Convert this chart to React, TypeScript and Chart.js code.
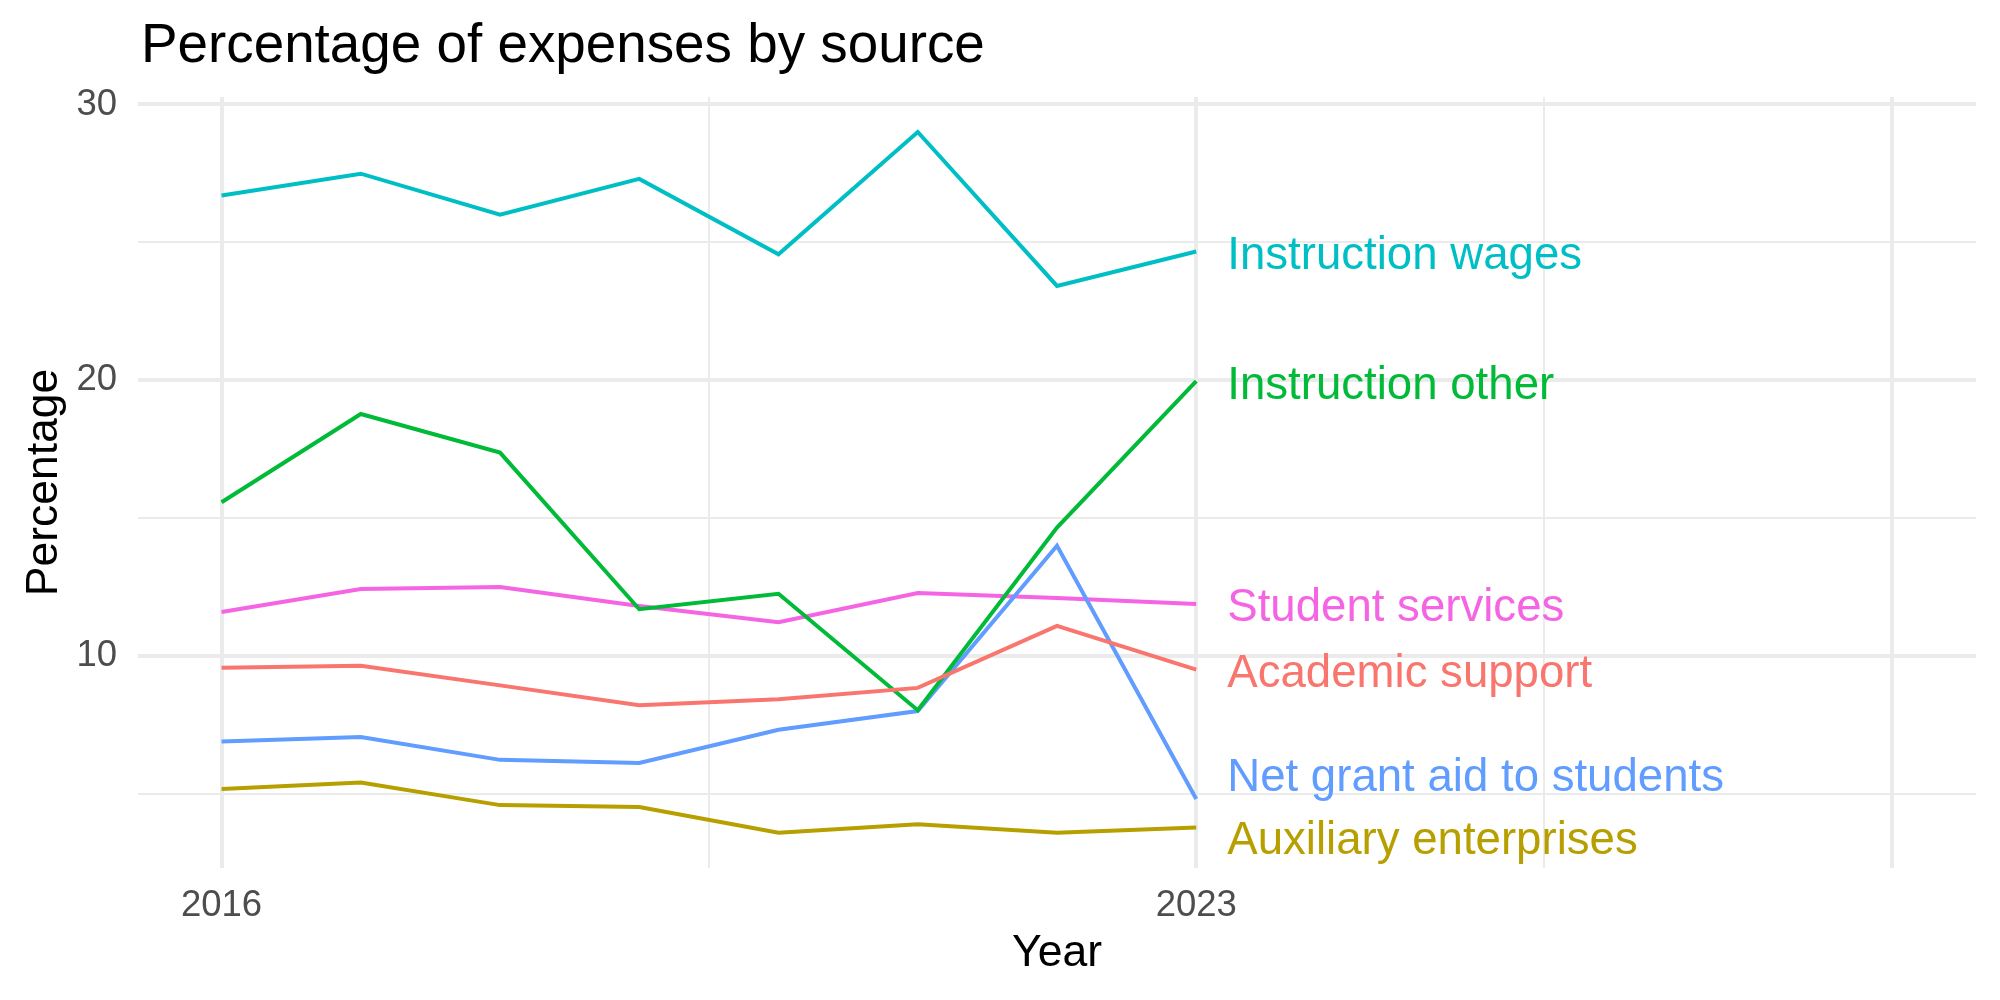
import React, { useEffect, useRef } from "react";
import { Chart, registerables } from "chart.js";

Chart.register(...registerables);

const years = [2016, 2017, 2018, 2019, 2020, 2021, 2022, 2023];

const seriesNames = [
  "Academic support",
  "Auxiliary enterprises",
  "Instruction other",
  "Instruction wages",
  "Net grant aid to students",
  "Student services",
];
const seriesColors = ["#F8766D", "#B79F00", "#00BA38", "#00BFC4", "#619CFF", "#F564E3"];

const academicSupport = [9.58, 9.65, 8.94, 8.22, 8.44, 8.85, 11.1, 9.51];
const auxiliaryEnterprises = [5.18, 5.42, 4.6, 4.53, 3.6, 3.91, 3.6, 3.79];
const instructionOther = [15.58, 18.78, 17.38, 11.7, 12.26, 8.04, 14.66, 19.97];
const instructionWages = [26.7, 27.49, 26.0, 27.3, 24.57, 29.0, 23.42, 24.67];
const netGrantAid = [6.91, 7.07, 6.24, 6.13, 7.33, 8.01, 14.0, 4.82];
const studentServices = [11.6, 12.43, 12.51, 11.82, 11.23, 12.29, 12.11, 11.89];

// end-label vertical positions (after repelling), in data units
const labelYears = [2023, 2023, 2023, 2023, 2023, 2023];
const labelValues = [9.46, 3.42, 19.91, 24.64, 5.72, 11.87];

const xMajorTicks = [2016, 2023, 2028];
const xMinorTicks = [2019.5, 2025.5];
const xTickLabels = ["2016", "2023", ""];
const yMajorTicks = [10, 20, 30];
const yMinorTicks = [5, 15, 25];
const yTickLabels = ["10", "20", "30"];

const titleText = "Percentage of expenses by source";
const xTitle = "Year";
const yTitle = "Percentage";

const FONT = "'Liberation Sans', Arial, Helvetica, sans-serif";

export default function App() {
  const ref = useRef<HTMLCanvasElement | null>(null);

  useEffect(() => {
    const canvas = ref.current;
    if (!canvas) return;
    const allSeries = [
      academicSupport,
      auxiliaryEnterprises,
      instructionOther,
      instructionWages,
      netGrantAid,
      studentServices,
    ];

    const labelPlugin = {
      id: "endLabels",
      afterDatasetsDraw(chart: any) {
        const ctx = chart.ctx;
        const xs = chart.scales.x;
        const ys = chart.scales.y;
        ctx.save();
        const fs = 45.6;
        ctx.font = `${fs}px ${FONT}`;
        ctx.textAlign = "left";
        ctx.textBaseline = "alphabetic";
        seriesNames.forEach((name, i) => {
          const px = xs.getPixelForValue(labelYears[i]) + 31;
          const py = ys.getPixelForValue(labelValues[i]) + 0.358 * fs;
          ctx.fillStyle = seriesColors[i];
          ctx.fillText(name, px, py);
        });
        ctx.restore();
      },
    };

    const titlePlugin = {
      id: "ggTitle",
      afterDraw(chart: any) {
        const ctx = chart.ctx;
        ctx.save();
        ctx.font = `54.8px ${FONT}`;
        ctx.fillStyle = "#000000";
        ctx.textAlign = "left";
        ctx.textBaseline = "alphabetic";
        ctx.fillText(titleText, 141, 62);
        ctx.restore();
      },
    };

    const isMajorX = (v: number) => xMajorTicks.includes(v);
    const isMajorY = (v: number) => yMajorTicks.includes(v);

    const chart = new Chart(canvas, {
      type: "line",
      data: {
        datasets: seriesNames.map((name, i) => ({
          label: name,
          data: years.map((y, j) => ({ x: y, y: allSeries[i][j] })),
          borderColor: seriesColors[i],
          backgroundColor: seriesColors[i],
          borderWidth: 4,
          pointRadius: 0,
          tension: 0,
          fill: false,
          borderJoinStyle: "miter",
        })),
      },
      options: {
        responsive: false,
        animation: false,
        maintainAspectRatio: false,
        layout: { padding: { top: 97, right: 24, left: 0, bottom: 0 } },
        plugins: {
          legend: { display: false },
          title: { display: false },
          tooltip: { enabled: false },
        },
        scales: {
          x: {
            type: "linear",
            min: 2015.4,
            max: 2028.6,
            border: { display: false },
            afterBuildTicks(scale: any) {
              scale.ticks = [...xMajorTicks, ...xMinorTicks]
                .sort((a, b) => a - b)
                .map((v) => ({ value: v }));
            },
            afterFit(scale: any) {
              scale.height = 132;
            },
            grid: {
              color: "#EBEBEB",
              drawTicks: false,
              lineWidth: (c: any) => (isMajorX(c.tick?.value) ? 4 : 2),
            },
            ticks: {
              autoSkip: false,
              maxRotation: 0,
              padding: 16,
              color: "#4D4D4D",
              font: { family: FONT, size: 36.5 },
              callback: (v: any) => {
                const idx = xMajorTicks.indexOf(Number(v));
                return idx >= 0 ? xTickLabels[idx] : "";
              },
            },
            title: {
              display: true,
              text: xTitle,
              color: "#000000",
              font: { family: FONT, size: 44.5 },
              padding: { top: 0, bottom: 19.6 },
            },
          },
          y: {
            type: "linear",
            min: 2.32,
            max: 30.27,
            border: { display: false },
            afterBuildTicks(scale: any) {
              scale.ticks = [...yMajorTicks, ...yMinorTicks]
                .sort((a, b) => a - b)
                .map((v) => ({ value: v }));
            },
            afterFit(scale: any) {
              scale.width = 138;
            },
            grid: {
              color: "#EBEBEB",
              drawTicks: false,
              lineWidth: (c: any) => (isMajorY(c.tick?.value) ? 4 : 2),
            },
            ticks: {
              autoSkip: false,
              padding: 21,
              color: "#4D4D4D",
              font: { family: FONT, size: 36.5 },
              callback: (v: any) => {
                const idx = yMajorTicks.indexOf(Number(v));
                return idx >= 0 ? yTickLabels[idx] : "";
              },
            },
            title: {
              display: true,
              text: yTitle,
              color: "#000000",
              font: { family: FONT, size: 44.5 },
              padding: { top: 17.6, bottom: 0 },
            },
          },
        },
      },
      plugins: [labelPlugin, titlePlugin],
    } as any);

    return () => chart.destroy();
  }, []);

  return (
    <div style={{ position: "absolute", left: 0, top: 0, width: 2000, height: 1000, background: "#ffffff" }}>
      <canvas ref={ref} width={2000} height={1000} style={{ width: 2000, height: 1000, display: "block" }} />
    </div>
  );
}
